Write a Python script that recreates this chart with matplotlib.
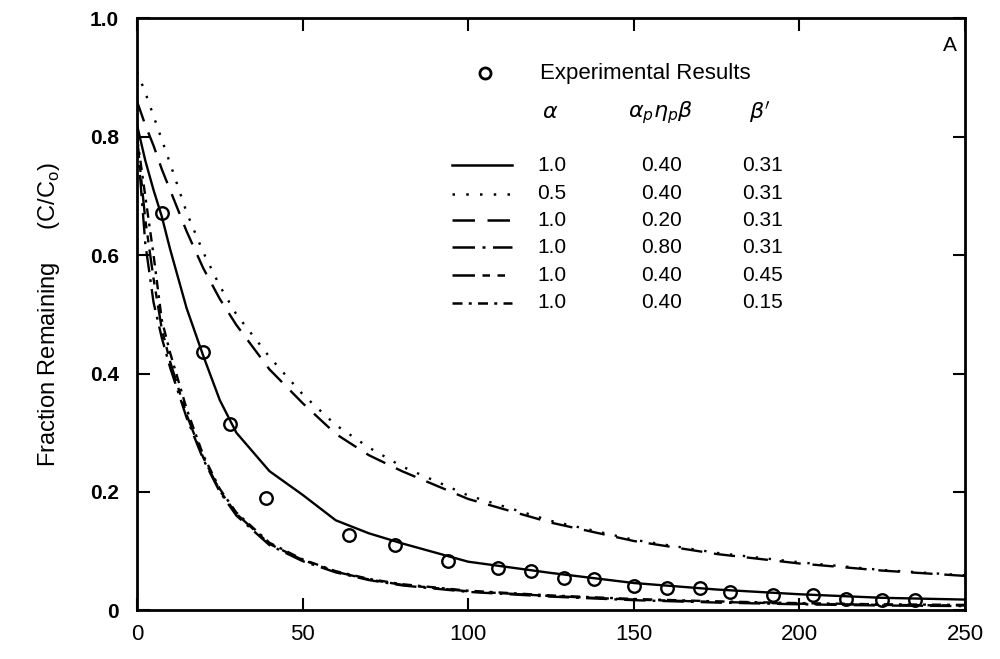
import numpy as np
import matplotlib.pyplot as plt
from matplotlib.lines import Line2D

plt.rcParams['font.family'] = ['Liberation Sans', 'DejaVu Sans']

# experimental points
exp_x = [7.5, 20, 28, 39, 64, 78, 94, 109, 119, 129, 138, 150, 160, 170, 179, 192, 204, 214, 225, 235]
exp_y = [0.671, 0.436, 0.314, 0.189, 0.127, 0.110, 0.084, 0.072, 0.066, 0.055,
         0.052, 0.041, 0.037, 0.038, 0.030, 0.026, 0.025, 0.019, 0.017, 0.017]

# model curves
t = [0, 2.5, 5, 7.5, 10, 15, 20, 25, 30, 40, 50, 60, 70, 80, 100, 125, 150, 175, 200, 225, 250]
c_base = [0.82, 0.76, 0.71, 0.665, 0.61, 0.51, 0.43, 0.355, 0.30, 0.235, 0.195, 0.152, 0.130,
          0.113, 0.082, 0.063, 0.046, 0.035, 0.027, 0.021, 0.018]
c_alpha05 = [0.91, 0.875, 0.835, 0.795, 0.755, 0.672, 0.605, 0.548, 0.50, 0.428, 0.365, 0.313,
             0.275, 0.243, 0.194, 0.151, 0.119, 0.097, 0.081, 0.068, 0.059]
c_apnp020 = [0.86, 0.82, 0.785, 0.745, 0.71, 0.64, 0.578, 0.526, 0.482, 0.407, 0.35, 0.298,
             0.262, 0.235, 0.188, 0.148, 0.117, 0.095, 0.079, 0.067, 0.058]
c_apnp080 = [0.80, 0.62, 0.52, 0.46, 0.41, 0.325, 0.255, 0.200, 0.160, 0.110, 0.083, 0.064,
             0.051, 0.042, 0.031, 0.023, 0.017, 0.013, 0.010, 0.008, 0.007]
c_beta045 = [0.80, 0.66, 0.56, 0.475, 0.42, 0.33, 0.258, 0.202, 0.163, 0.112, 0.085, 0.065,
             0.052, 0.043, 0.032, 0.024, 0.018, 0.014, 0.011, 0.009, 0.008]
c_beta015 = [0.80, 0.70, 0.60, 0.49, 0.435, 0.34, 0.262, 0.205, 0.165, 0.114, 0.086, 0.066,
             0.053, 0.044, 0.033, 0.025, 0.019, 0.015, 0.012, 0.010, 0.009]

curves = [c_base, c_alpha05, c_apnp020, c_apnp080, c_beta045, c_beta015]
alpha_vals = ['1.0', '0.5', '1.0', '1.0', '1.0', '1.0']
apnpb_vals = ['0.40', '0.40', '0.20', '0.80', '0.40', '0.40']
beta_vals = ['0.31', '0.31', '0.31', '0.31', '0.45', '0.15']
styles = ['-', (0, (1, 4.5)), (0, (9, 5)), (0, (9, 3, 1.2, 3)),
          (0, (9, 3, 3, 3, 3, 3)), (0, (4, 2.5, 1.2, 2.5))]

fig = plt.figure(figsize=(10, 6.59), dpi=100)
ax = fig.add_axes([0.137, 0.074, 0.828, 0.898])

for y, ls in zip(curves, styles):
    ax.plot(t, y, color='black', lw=1.7, linestyle=ls)
ax.plot(exp_x, exp_y, 'o', ms=9, mfc='none', mec='black', mew=1.7)

ax.set_xlim(0, 250)
ax.set_ylim(0, 1.0)
ax.set_xticks([0, 50, 100, 150, 200, 250])
ax.set_yticks([0, 0.2, 0.4, 0.6, 0.8, 1.0])
ax.set_yticklabels(['0', '0.2', '0.4', '0.6', '0.8', '1.0'])
ax.tick_params(direction='in', length=9, width=1.5, top=True, right=True)
ax.tick_params(axis='y', pad=13, labelsize=15)
ax.tick_params(axis='x', pad=10, labelsize=16)
for lab in ax.get_yticklabels():
    lab.set_fontweight('bold')
for s in ax.spines.values():
    s.set_linewidth(2)

ax.set_ylabel('Fraction Remaining     (C/C$_\\mathregular{o}$)', fontsize=17)
ax.yaxis.set_label_coords(-0.09, 0.5)

ax.text(0.982, 0.955, 'A', transform=ax.transAxes, fontsize=15, ha='center', va='center')

# legend table
ax.plot([0.42], [0.907], 'o', ms=8, mfc='none', mec='black', mew=2, transform=ax.transAxes)
ax.text(0.487, 0.907, 'Experimental Results', transform=ax.transAxes, fontsize=16, va='center')
ax.text(0.499, 0.841, r'$\alpha$', transform=ax.transAxes, fontsize=16, ha='center', va='center')
ax.text(0.632, 0.841, r'$\alpha_p\eta_p\beta$', transform=ax.transAxes, fontsize=16, ha='center', va='center')
ax.text(0.752, 0.841, r"$\beta'$", transform=ax.transAxes, fontsize=16, ha='center', va='center')

rows_y = [0.752, 0.704, 0.659, 0.613, 0.566, 0.520]
for ry, ls, a, p, b in zip(rows_y, styles, alpha_vals, apnpb_vals, beta_vals):
    ax.add_line(Line2D([0.380, 0.453], [ry, ry], color='black', lw=1.8, linestyle=ls,
                       transform=ax.transAxes))
    ax.text(0.483, ry, a, transform=ax.transAxes, fontsize=15, va='center')
    ax.text(0.634, ry, p, transform=ax.transAxes, fontsize=15, ha='center', va='center')
    ax.text(0.755, ry, b, transform=ax.transAxes, fontsize=15, ha='center', va='center')

fig.savefig('out.png', dpi=100)
